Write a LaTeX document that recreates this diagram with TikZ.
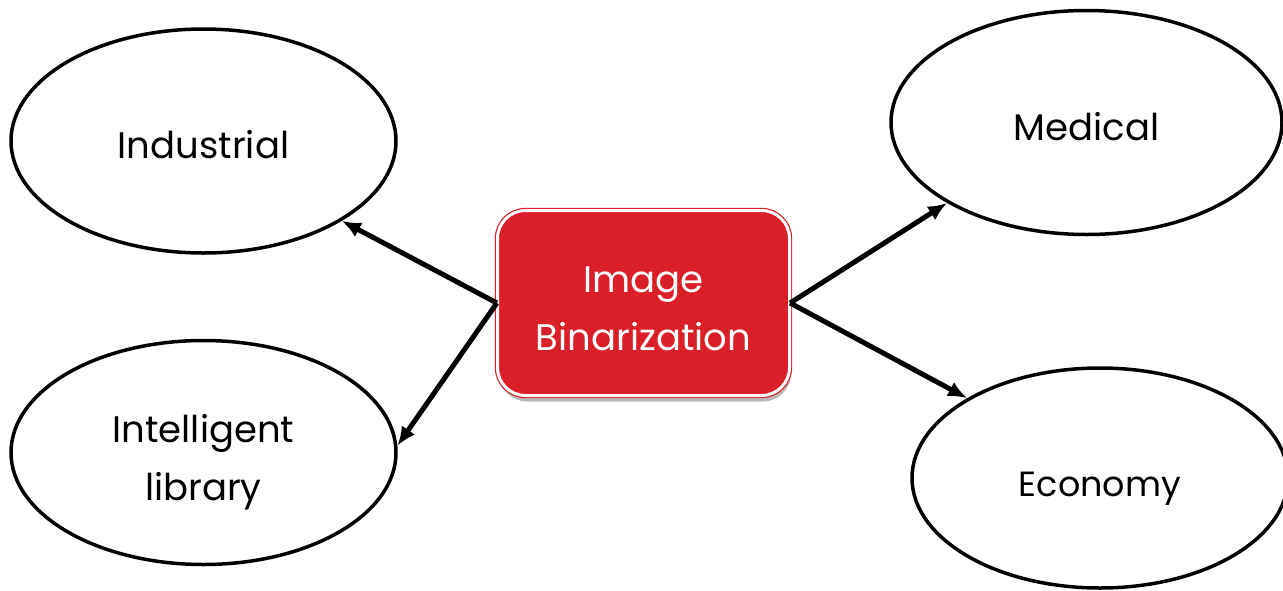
\documentclass[tikz,border=0pt]{standalone}
\usepackage{fontspec}
\setmainfont{Poppins}
\usetikzlibrary{shapes.geometric,arrows.meta,shadows}
\definecolor{boxred}{RGB}{218,31,40}
\tikzset{
  bubble/.style={ellipse, draw=black, line width=3.5pt, fill=white, inner sep=0pt,
     font=\fontsize{37}{58}\selectfont, align=center, text=black,
     text height=35pt, text depth=0pt},
  twoline/.style={text height=95pt, text depth=0pt},
  hub/.style={rounded corners=28pt, draw=boxred, double=white, double distance=3pt,
     line width=1.2pt, fill=boxred, minimum width=292pt, minimum height=185pt,
     font=\fontsize{37}{58}\selectfont, text=white, align=center,
     drop shadow={shadow xshift=1.5pt, shadow yshift=-6pt, opacity=0.5, fill=black!55}},
  link/.style={line width=5pt, -{Latex[length=19pt,width=16pt]}}
}
\begin{document}
\begin{tikzpicture}[x=1pt,y=-1pt]
\useasboundingbox (0,0) rectangle (1283,590);
\node[bubble, minimum width=385pt, minimum height=224pt] (ind) at (203.5,141) {Industrial};
\node[bubble, twoline, minimum width=385pt, minimum height=224pt] (intel) at (203.5,452.5) {Intelligent\\library};
\node[bubble, minimum width=391pt, minimum height=224pt] (med) at (1086.5,122.5) {Medical};
\node[bubble, minimum width=376pt, minimum height=220pt, font=\fontsize{35}{58}\selectfont, text height=37pt] (eco) at (1100,478) {Economy};
\node[hub, twoline] (hub) at (643.5,303) {Image\\Binarization};
\draw[link] (hub.west) -- (ind.-30);
\draw[link] (hub.west) -- (intel.2);
\draw[link] (hub.east) -- (med.210);
\draw[link] (hub.east) -- (eco.149);
\end{tikzpicture}
\end{document}
